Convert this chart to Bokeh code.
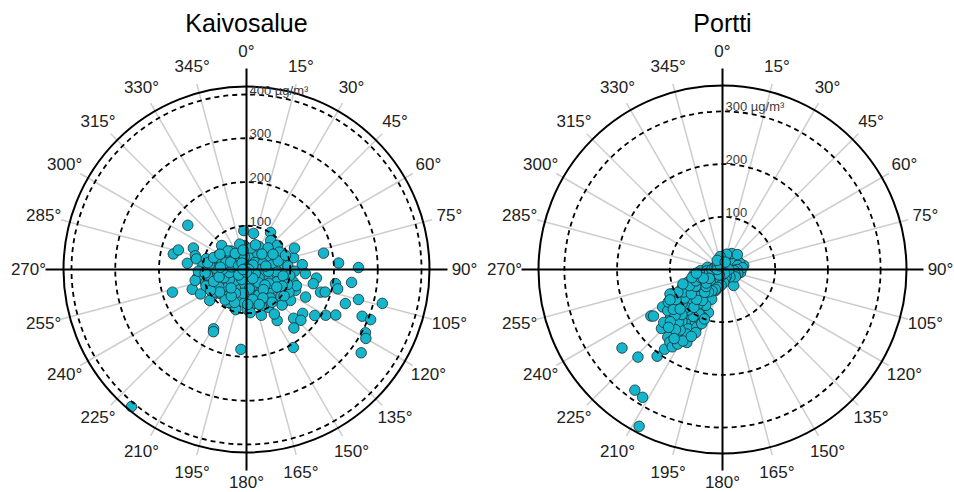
import numpy as np
from bokeh.plotting import figure
from bokeh.layouts import row
from bokeh.models import Range1d
from bokeh.embed import file_html
from bokeh.resources import INLINE
from bokeh.core.properties import value

# ---- data: wind direction (deg) and concentration (ug/m3) ----
kaivos_dir = [282, 286, 292, 285, 276, 314, 78, 86, 89, 85, 94, 97, 97, 99, 102, 102, 107, 106, 105, 104,
              109, 253, 250, 242, 233, 260, 261, 252, 149, 136, 128, 133, 141, 124, 120, 117, 112, 112, 118, 120,
              126, 149, 209, 208, 184, 220, 205, 197, 179, 170, 209, 182, 132, 132, 125, 113, 115, 117, 135, 152,
              128, 103, 102, 105, 247, 227, 216, 228, 262, 272, 81, 76, 71, 57, 305, 284, 307, 356, 11, 33,
              40, 52, 66, 282, 297, 175, 195,
              5, 20, 35, 50, 60, 70, 80, 90, 95, 100, 110, 115, 120, 125, 130, 140, 145, 150, 155, 160,
              165, 170, 175, 185, 190, 200, 210, 220, 225, 230, 235, 240, 245, 250, 255, 260, 265, 270, 275, 280,
              290, 300, 310, 320, 330, 340, 350, 355,
              85, 92, 98, 105, 108, 112, 118, 122, 128, 135, 138, 142, 148, 158, 162, 168, 172, 178, 188, 195,
              205, 215, 230, 238, 248, 258, 262, 268, 272, 278, 285, 288, 295, 315, 325, 345, 12, 28, 45, 62, 75,
              10, 40, 70, 100, 130, 160, 190, 220, 250, 280, 310, 340, 25, 115, 205, 295, 55, 145, 235, 325,
              0, 90, 180, 270,
              95, 100, 110, 115, 120, 125, 130, 140, 150, 160, 200, 210, 220, 230, 240, 250, 255, 265, 275, 280,
              290, 300, 60, 70, 80, 45, 20, 350]
kaivos_conc = [171, 162, 131, 121, 136, 79, 180, 211, 256, 128, 135, 161, 242, 206, 213, 156, 177, 187, 265, 320,
               239, 177, 132, 119, 95, 107, 113, 98, 136, 155, 163, 170, 172, 188, 209, 229, 285, 306, 308, 315,
               324, 208, 155, 161, 183, 409, 86, 86, 91, 81, 86, 55, 95, 113, 123, 122, 149, 105, 68, 54,
               41, 63, 87, 111, 82, 81, 51, 27, 65, 82, 86, 111, 75, 38, 36, 68, 168, 89, 84, 101,
               86, 90, 120, 117, 72, 99, 78,
               20, 30, 45, 25, 55, 40, 60, 30, 70, 45, 80, 55, 95, 35, 70, 85, 50, 100, 65, 40,
               80, 30, 60, 75, 40, 65, 50, 70, 35, 60, 90, 45, 70, 55, 85, 40, 75, 55, 100, 35,
               60, 45, 30, 55, 25, 40, 30, 55,
               95, 110, 100, 90, 120, 75, 110, 60, 100, 115, 40, 95, 120, 90, 110, 70, 45, 80, 55, 95,
               60, 85, 110, 75, 100, 120, 90, 110, 70, 85, 95, 50, 40, 60, 45, 60, 50, 60, 70, 85, 75,
               8, 12, 15, 10, 18, 12, 15, 10, 18, 12, 15, 10, 5, 22, 25, 20, 18, 25, 22, 18,
               3, 5, 6, 8,
               50, 85, 100, 90, 80, 105, 55, 60, 75, 85, 80, 70, 55, 80, 95, 80, 65, 95, 60, 90,
               80, 70, 70, 95, 45, 50, 60, 45]

portti_dir = [238, 237, 236, 226, 232, 224, 217, 216, 216, 212, 208, 212, 206, 214, 216, 221, 213, 207, 225, 235,
              243, 249, 267, 278, 198, 202, 210, 206, 198, 226, 223, 218, 145, 0, 59, 79, 99, 127, 190, 246,
              221, 237,
              200, 205, 208, 212, 215, 218, 220, 222, 225, 228, 230, 232, 235, 238, 240, 242, 245, 248, 250, 255,
              260, 265, 210, 214, 209, 204, 201, 219, 224, 227, 233, 236, 239, 244, 213, 217, 221, 229, 234, 241,
              252, 258, 270, 285, 300, 320, 340, 355, 10, 30, 45, 60, 70, 75, 85, 90, 95, 105, 110, 120,
              135, 150, 165, 175, 185, 195, 200, 206, 212, 218, 224, 230, 236,
              0, 60, 120, 180, 240, 300, 30, 90, 150, 210, 270, 330,
              215, 220, 218, 222, 226, 230, 233, 228, 225, 231, 237, 240, 243, 219, 216, 213, 211, 209, 215, 223,
              227, 232, 238, 244, 247, 251, 246,
              255, 262, 250, 245, 240, 30, 45, 15, 350, 330, 20, 203, 205, 200]
portti_conc = [134, 162, 158, 161, 242, 231, 206, 187, 283, 286, 337, 157, 154, 145, 131, 121, 119, 113, 105, 93,
               75, 59, 42, 29, 86, 98, 83, 65, 42, 66, 89, 107, 37, 23, 33, 41, 35, 19, 21, 19,
               35, 49,
               60, 75, 95, 105, 80, 125, 100, 140, 120, 85, 110, 95, 115, 80, 100, 65, 85, 50, 70, 45,
               55, 30, 130, 150, 140, 120, 110, 155, 100, 135, 130, 70, 120, 105, 70, 90, 75, 60, 55, 40,
               35, 25, 20, 15, 12, 15, 18, 15, 20, 25, 20, 25, 35, 30, 38, 28, 22, 30, 25, 28,
               20, 15, 18, 25, 30, 35, 40, 45, 50, 55, 45, 40, 30,
               5, 8, 6, 10, 8, 6, 10, 12, 8, 12, 10, 8,
               140, 130, 145, 115, 125, 100, 90, 150, 140, 120, 105, 85, 95, 165, 170, 175, 165, 155, 160, 150,
               110, 75, 60, 70, 55, 45, 40,
               60, 50, 80, 110, 115, 35, 40, 30, 25, 20, 15, 130, 140, 100]

kaivos_rings = [100, 200, 300, 400]
portti_rings = [100, 200, 300]
angle_ticks = list(range(0, 360, 15))

W, H = 477, 492
FONT = value("Liberation Sans")


def panel(title, dirs, conc, rings, px_per_unit, cx, cy, outer_px):
    s = px_per_unit
    u = 1.0 / s
    p = figure(width=W, height=H, output_backend="svg", toolbar_location=None,
               x_range=Range1d(-cx * u, (W - cx) * u), y_range=Range1d(-(H - cy) * u, cy * u),
               x_axis_location=None, y_axis_location=None, min_border=0,
               outline_line_color=None, background_fill_color="white", border_fill_color="white")
    p.xgrid.visible = False
    p.ygrid.visible = False

    # grey spokes
    sp = np.radians([a for a in angle_ticks if a % 90])
    p.segment(x0=0, y0=0, x1=192 * u * np.sin(sp), y1=192 * u * np.cos(sp),
              line_color="#cdcdcd", line_width=1.5)

    # points
    th = np.radians(np.array(dirs, dtype=float))
    c = np.array(conc, dtype=float)
    p.scatter(x=c * np.sin(th), y=c * np.cos(th), size=10.5, fill_color="#14b6cc",
              line_color="#1e2a2e", line_width=0.8)

    # dashed rings
    p.circle(x=[0] * len(rings), y=[0] * len(rings), radius=rings, fill_color=None,
             line_color="black", line_width=1.8, line_dash="5 4")
    # outer circle
    p.circle(x=[0], y=[0], radius=[outer_px * u], fill_color=None, line_color="black", line_width=2)
    # main axes
    L = 201 * u
    p.segment(x0=[-L, 0], y0=[0, -L], x1=[L, 0], y1=[0, L], line_color="black", line_width=2)

    # ring labels
    labels = [str(r) for r in rings]
    labels[-1] = labels[-1] + " µg/m³"
    p.text(x=[3 * u] * len(rings), y=[r + 4.5 * u for r in rings], text=labels,
           text_font=FONT, text_font_size="13px", text_color="#3a3a3a",
           text_align="left", text_baseline="alphabetic")

    # angle labels (cardinal ones pushed out past the axis lines)
    at = np.radians(angle_ticks)
    R = np.array([(218 if a % 90 == 0 else 210) for a in angle_ticks], dtype=float) * u
    R[angle_ticks.index(180)] = 213 * u
    p.text(x=R * np.sin(at), y=R * np.cos(at), text=[f"{a}°" for a in angle_ticks],
           text_font=FONT, text_font_size="17px", text_color="#222222",
           text_align="center", text_baseline="middle")

    # title
    p.text(x=[0], y=[(cy - 22) * u], text=[title], text_font=FONT, text_font_size="25px",
           text_color="black", text_align="center", text_baseline="middle")
    return p


left = panel("Kaivosalue", kaivos_dir, kaivos_conc, kaivos_rings, 0.4375, 246, 269, 183)
right = panel("Portti", portti_dir, portti_conc, portti_rings, 0.527, 245, 269, 184)

layout = row(left, right)
open("out.html", "w").write(file_html(layout, INLINE))
